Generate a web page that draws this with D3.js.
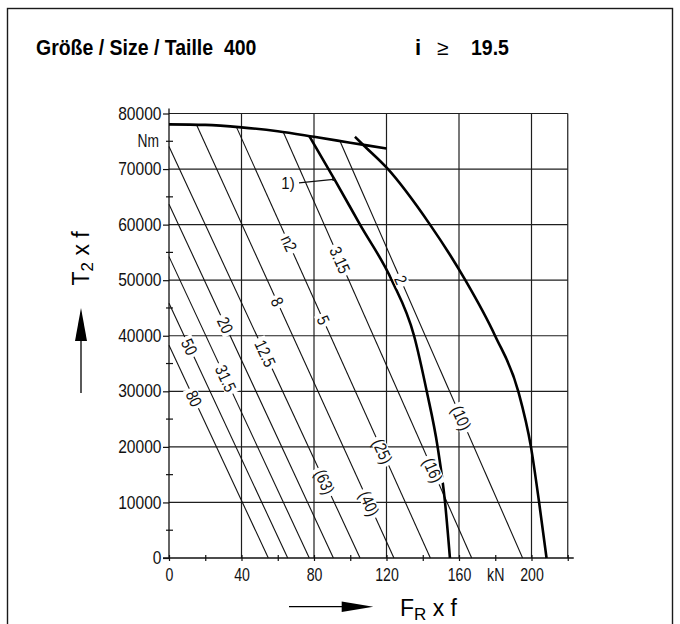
<!DOCTYPE html>
<html>
<head>
<meta charset="utf-8">
<script src="https://cdn.jsdelivr.net/npm/d3@7"></script>
<style>
  body { margin: 0; background: #fff; }
  svg { display: block; }
  .plain { font-family: "Liberation Sans", Arial, Helvetica, sans-serif; }
</style>
</head>
<body>
<svg id="chart" width="680" height="624"></svg>
<script>
// ---- axis ticks ----
const xMinorTicks = [0, 20, 40, 60, 80, 100, 120, 140, 160, 180, 200, 220];
const xLabelValues = [0, 40, 80, 120, 160, 180, 200];
const xLabelTexts = ["0", "40", "80", "120", "160", "kN", "200"];
const xGrid = [40, 80, 120, 160, 200, 220];
const yLabelValues = [0, 10000, 20000, 30000, 40000, 50000, 60000, 70000, 80000];
const yMinorTicks = [5000, 15000, 25000, 35000, 45000, 55000, 65000, 75000];
const yGrid = [10000, 20000, 30000, 40000, 50000, 60000, 70000, 80000];
const yUnit = { value: 75000, text: "Nm" };

// ---- upper torque limit (F_R x f in kN, T2 x f in Nm) ----
const limitF = [0, 20, 40, 60, 80, 100, 120];
const limitT = [78050, 77950, 77500, 76800, 75800, 74750, 73700];

// ---- limit curve 1) ----
const curveAF = [77.4, 91.3, 105.4, 122.9, 135.2, 142.2, 148.2, 152.3, 155.0];
const curveAT = [75940, 68150, 60000, 50000, 40000, 30000, 20000, 10000, 0];

// ---- outer limit curve ----
const curveBF = [102.6, 107.2, 120.1, 144.0, 155.0, 163.5, 179.9, 192.7, 199.7, 204.2, 208.3];
const curveBT = [75820, 74330, 70240, 60000, 54570, 50000, 40000, 30000, 20000, 10000, 0];

// ---- n2 speed lines: start point and force at zero torque ----
const lineStartF = [0, 0, 0, 0, 0, 15.3, 37.3, 63.1, 94.3];
const lineStartT = [38300, 45830, 54240, 63680, 74050, 77900, 77500, 76610, 75050];
const lineEndF   = [54.8, 65.5, 77.4, 90.7, 105.4, 124.1, 144.2, 167.0, 195.1];

// ---- labels on the speed lines (line index, torque where the label sits) ----
const labelLine = [0, 1, 2, 3, 4, 5, 6, 6, 7, 8, 4, 5, 6, 7, 8];
const labelT    = [28710, 38000, 32310, 41910, 36810, 46100, 42810, 56620, 53620, 50020, 13690, 9800, 19200, 15800, 25200];
const labelText = ["80", "50", "31.5", "20", "12.5", "8", "5", "n2", "3.15", "2", "(63)", "(40)", "(25)", "(16)", "(10)"];

// ---- note marker "1)" on curve 1) ----
const noteText = "1)";
const noteT = 68150;

const svg = d3.select("#chart");
const x = d3.scaleLinear().domain([0, 220]).range([169, 567.75]);
const y = d3.scaleLinear().domain([0, 80000]).range([558, 113.5]);

// squeeze text horizontally to mimic the narrow drafting lettering
function condense(sel, factor) {
  sel.each(function () {
    const len = this.getComputedTextLength();
    d3.select(this).attr("textLength", len * factor).attr("lengthAdjust", "spacingAndGlyphs");
  });
}

// outer frame
svg.append("rect")
  .attr("x", 7.5).attr("y", 8.5).attr("width", 665).attr("height", 640)
  .attr("fill", "none").attr("stroke", "#1a1a1a").attr("stroke-width", 1.4);

// title
svg.append("text").attr("class", "plain")
  .attr("x", 36).attr("y", 55).attr("font-size", 22).attr("font-weight", "bold")
  .style("white-space", "pre").attr("fill", "#000")
  .text("Größe / Size / Taille  400")
  .call(condense, 0.885);
const ratio = svg.append("g").attr("class", "plain").attr("fill", "#000");
ratio.append("text").attr("x", 415).attr("y", 55).attr("font-size", 22).attr("font-weight", "bold").text("i");
ratio.append("text").attr("x", 437).attr("y", 55).attr("font-size", 21).text("≥");
ratio.append("text").attr("x", 471).attr("y", 55).attr("font-size", 22).attr("font-weight", "bold").text("19.5")
  .call(condense, 0.885);

// grid
const grid = svg.append("g").attr("stroke", "#1e1e1e").attr("stroke-width", 1.2);
grid.selectAll("line.h").data(yGrid).join("line").attr("class", "h")
  .attr("x1", x(0)).attr("x2", x(220)).attr("y1", d => y(d)).attr("y2", d => y(d));
grid.selectAll("line.v").data(xGrid).join("line").attr("class", "v")
  .attr("x1", d => x(d)).attr("x2", d => x(d)).attr("y1", y(0)).attr("y2", y(80000));

// axis lines
svg.append("line").attr("x1", x(0)).attr("x2", x(0)).attr("y1", y(0)).attr("y2", y(80000) - 5)
  .attr("stroke", "#111").attr("stroke-width", 1.3);
svg.append("line").attr("x1", x(0) - 6).attr("x2", x(220) + 6).attr("y1", y(0)).attr("y2", y(0))
  .attr("stroke", "#111").attr("stroke-width", 1.3);

// y axis: labelled ticks
const yAxis = svg.append("g").attr("transform", `translate(${x(0)},0)`)
  .call(d3.axisLeft(y).tickValues(yLabelValues).tickFormat(d => String(d)).tickSize(6).tickPadding(1.5));
yAxis.select(".domain").remove();
yAxis.attr("font-family", null).attr("font-size", null);
yAxis.selectAll("line").attr("stroke", "#111").attr("stroke-width", 1.2);
yAxis.selectAll("text").attr("class", "plain").attr("font-size", 17.7).attr("fill", "#111")
  .call(condense, 0.88);
// y axis: minor ticks crossing the axis
svg.append("g").selectAll("line").data(yMinorTicks).join("line")
  .attr("x1", x(0) - 3).attr("x2", x(0) + 4).attr("y1", d => y(d)).attr("y2", d => y(d))
  .attr("stroke", "#111").attr("stroke-width", 1.2);
svg.append("text").attr("class", "plain")
  .attr("x", x(0) - 10).attr("y", y(yUnit.value)).attr("dy", "0.35em")
  .attr("text-anchor", "end").attr("font-size", 17.7).attr("fill", "#111").text(yUnit.text)
  .call(condense, 0.78);

// x axis: ticks crossing the axis
const xTickAxis = svg.append("g").attr("transform", `translate(0,${y(0)})`)
  .call(d3.axisBottom(x).tickValues(xMinorTicks).tickFormat("").tickSize(3));
xTickAxis.select(".domain").remove();
xTickAxis.selectAll("line").attr("y1", -3).attr("stroke", "#111").attr("stroke-width", 1.2);
// x axis: labels
const xLabelAxis = svg.append("g").attr("transform", `translate(0,${y(0)})`)
  .call(d3.axisBottom(x).tickValues(xLabelValues).tickFormat((d, i) => xLabelTexts[i]).tickSize(0).tickPadding(10));
xLabelAxis.select(".domain").remove();
xLabelAxis.attr("font-family", null).attr("font-size", null);
xLabelAxis.selectAll("text").attr("class", "plain").attr("font-size", 17.7).attr("fill", "#111")
  .call(condense, 0.8);

// n2 speed lines
const straight = d3.line().x(d => x(d[0])).y(d => y(d[1]));
svg.append("g").selectAll("path").data(lineEndF).join("path")
  .attr("d", (d, i) => straight([[lineStartF[i], lineStartT[i]], [lineEndF[i], 0]]))
  .attr("fill", "none").attr("stroke", "#111").attr("stroke-width", 1.1);

// thick limit curves
const smooth = d3.line().x(d => x(d[0])).y(d => y(d[1])).curve(d3.curveMonotoneX);
const thick = svg.append("g").attr("fill", "none").attr("stroke", "#000").attr("stroke-width", 2.6)
  .attr("stroke-linejoin", "round");
thick.append("path").attr("d", smooth(limitF.map((f, i) => [f, limitT[i]])));
thick.append("path").attr("d", smooth(curveAF.map((f, i) => [f, curveAT[i]])));
thick.append("path").attr("d", smooth(curveBF.map((f, i) => [f, curveBT[i]])));

// labels along the speed lines, each on a white knockout
const labels = svg.append("g");
labelText.forEach((txt, k) => {
  const i = labelLine[k];
  const F0 = lineStartF[i], T0 = lineStartT[i], F1 = lineEndF[i];
  const T = labelT[k];
  const F = F1 - (F1 - F0) * T / T0;
  const ang = Math.atan2(y(0) - y(T0), x(F1) - x(F0)) * 180 / Math.PI;
  const g = labels.append("g").attr("transform", `translate(${x(F)},${y(T)}) rotate(${ang})`);
  const rect = g.append("rect").attr("fill", "#fff");
  const t = g.append("text").attr("class", "plain").attr("font-size", 17)
    .attr("text-anchor", "middle").attr("dy", "0.35em").attr("fill", "#111").text(txt);
  t.call(condense, 0.83);
  const len = +t.attr("textLength");
  rect.attr("x", -len / 2 - 3).attr("y", -7).attr("width", len + 6).attr("height", 14);
});

// note "1)" with leader to curve 1) — position found on the curve data
let noteF = curveAF[0];
for (let k = 0; k < curveAT.length - 1; k++) {
  if (noteT <= curveAT[k] && noteT >= curveAT[k + 1]) {
    const u = (curveAT[k] - noteT) / (curveAT[k] - curveAT[k + 1]);
    noteF = curveAF[k] + u * (curveAF[k + 1] - curveAF[k]);
    break;
  }
}
const nx = x(noteF), ny = y(noteT);
svg.append("text").attr("class", "plain").attr("x", 288).attr("y", ny + 4).attr("dy", "0.35em")
  .attr("text-anchor", "middle").attr("font-size", 17).attr("fill", "#111").text(noteText)
  .call(condense, 0.88);
svg.append("line").attr("x1", 299).attr("y1", ny + 3.5).attr("x2", nx - 1).attr("y2", ny)
  .attr("stroke", "#111").attr("stroke-width", 1.1);
svg.append("circle").attr("cx", nx - 1).attr("cy", ny).attr("r", 1.6).attr("fill", "#111");

// axis titles with arrows
const arrowColor = "#000";
// vertical
svg.append("line").attr("x1", 81).attr("x2", 81).attr("y1", 393).attr("y2", 338)
  .attr("stroke", arrowColor).attr("stroke-width", 1.3);
svg.append("path").attr("d", "M81,308 L75,341 L87,341 Z").attr("fill", arrowColor);
const yTitle = svg.append("text").attr("class", "plain").attr("font-size", 23).attr("fill", "#000")
  .attr("transform", "translate(89.3,285.5) rotate(-90)").style("white-space", "pre");
yTitle.append("tspan").text("T");
yTitle.append("tspan").attr("font-size", 17).attr("dy", 4).text("2");
yTitle.append("tspan").attr("dy", -4).text(" x f");
// horizontal
svg.append("line").attr("x1", 289).attr("x2", 343).attr("y1", 606.7).attr("y2", 606.7)
  .attr("stroke", arrowColor).attr("stroke-width", 1.3);
svg.append("path").attr("d", "M373.3,606.7 L341.7,601.4 L341.7,612 Z").attr("fill", arrowColor);
const xTitle = svg.append("text").attr("class", "plain").attr("font-size", 23).attr("fill", "#000")
  .attr("x", 400).attr("y", 615.5).style("white-space", "pre");
xTitle.append("tspan").text("F");
xTitle.append("tspan").attr("font-size", 17).attr("dy", 4).text("R");
xTitle.append("tspan").attr("dy", -4).text(" x f");
</script>
</body>
</html>
